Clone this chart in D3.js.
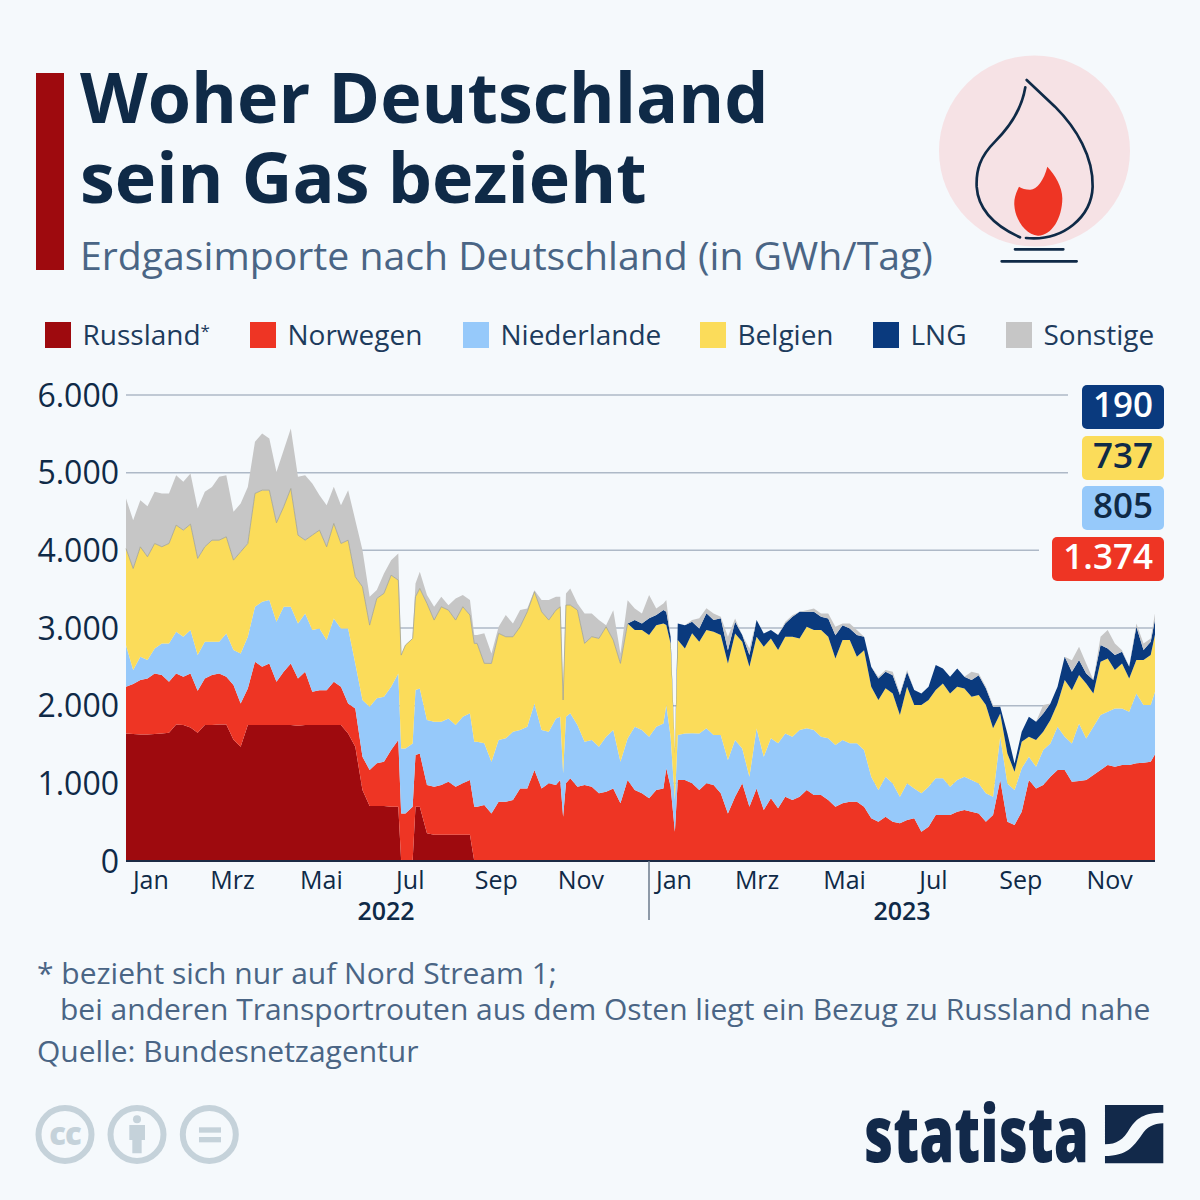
<!DOCTYPE html>
<html>
<head>
<meta charset="utf-8">
<script src="https://cdn.jsdelivr.net/npm/d3@7"></script>
<style>
  html, body { margin: 0; padding: 0; background: #f5f9fc; }
  svg { display: block; font-family: "Open Sans", sans-serif; }
</style>
</head>
<body>
<div id="chart"></div>
<script>
// days since 1 Jan 2022
const days = [
  0,5,10,15,20,25,30,35,40,45,50,55,60,65,70,75,80,85,90,95,
  100,105,110,115,120,125,130,135,140,145,150,155,160,165,170,175,180,185,190,192,
  195,200,202,205,210,215,220,225,230,235,240,243,245,250,255,260,265,270,275,280,
  285,290,295,300,303,305,307,310,315,320,325,330,335,340,345,350,355,360,365,370,
  375,377,380,383,385,390,395,400,405,410,415,420,425,430,435,440,445,450,455,460,
  465,470,475,480,485,490,495,500,505,510,515,520,525,530,535,540,545,550,555,560,
  565,570,575,580,585,590,595,600,605,610,615,620,625,630,635,640,645,650,655,660,
  665,670,675,680,685,690,695,700,705,710,715,718
];

const russland = [
  1643,1634,1630,1630,1634,1643,1652,1759,1750,1720,
  1652,1750,1750,1759,1759,1560,1470,1750,1750,1750,
  1750,1750,1750,1750,1742,1750,1750,1750,1750,1750,
  1750,1643,1472,914,708,708,708,699,699,
  0,0,0,699,699,356,339,339,339,339,339,339,
  0,0,0,0,0,0,0,0,0,0,
  0,0,0,0,0,0,0,0,0,0,
  0,0,0,0,0,0,0,0,0,0,
  0,0,0,0,0,0,0,0,0,0,
  0,0,0,0,0,0,0,0,0,0,
  0,0,0,0,0,0,0,0,0,0,
  0,0,0,0,0,0,0,0,0,0,
  0,0,0,0,0,0,0,0,0,0,
  0,0,0,0,0,0,0,0,0,0,
  0,0,0,0,0,0,0,0,0,0,
  0
];
const norwegen = [
  600,644,699,721,781,751,656,656,622,695,
  541,601,644,656,613,706,559,472,815,751,
  794,558,686,794,609,686,429,450,450,558,
  493,386,493,429,463,549,571,729,858,
  613,613,699,665,686,622,618,639,682,618,661,704,699,699,
  721,613,764,764,785,935,935,1171,935,1000,978,
  1042,571,1000,1064,957,978,957,871,892,935,742,1042,914,
  871,807,914,935,1193,957,378,1042,
  1042,1000,914,1000,978,871,613,828,1000,699,
  935,656,807,678,828,785,828,914,849,849,
  785,699,742,764,764,699,549,506,571,506,485,528,
  549,378,442,592,592,592,635,656,635,613,
  506,592,1042,506,463,635,1042,935,978,1085,
  1171,1171,1021,1030,1042,1107,1171,1236,1214,1236,
  1236,1257,1266,1278,1374
];
const niederlande = [
  536,180,300,236,322,408,493,536,515,558,
  459,472,429,408,558,450,644,665,708,837,
  815,772,837,729,708,751,794,794,644,815,
  751,965,579,729,815,837,837,815,858,
  837,837,815,837,837,837,837,815,815,794,858,858,837,837,
  794,665,794,815,879,751,794,858,751,665,858,
  815,558,858,837,794,558,601,601,708,751,536,536,815,
  815,794,815,837,815,644,408,579,
  601,644,729,708,644,751,686,729,450,386,
  772,686,772,837,815,815,858,794,837,751,
  794,794,815,751,751,729,536,408,515,493,343,472,
  386,493,515,472,472,365,408,429,408,386,
  365,236,558,493,450,558,300,279,450,429,
  558,429,493,742,536,622,708,686,751,729,
  686,901,742,729,805
];
const belgien = [
  1244,1308,1416,1330,1351,1244,1287,1373,1373,1364,
  1244,1223,1308,1308,1244,1158,1308,1201,1459,1437,
  1416,1274,1287,1523,1137,944,1223,1266,1201,1223,
  1094,1137,1115,1459,1051,1287,1330,1437,1201,
  1201,1330,1351,1201,1287,1502,1308,1480,1394,1351,1416,1266,1266,1266,
  1030,1266,1373,1308,1223,1330,1480,1437,1523,1437,1394,
  1416,944,1437,1394,1480,1266,1330,1394,1416,1158,1266,1480,1244,
  1287,1308,1308,1287,1030,1201,601,1223,
  1094,1287,1180,1266,1330,1287,1244,1373,1373,1416,
  1180,1416,1287,1201,1244,1287,1180,1308,1287,1373,
  1308,1115,1287,1330,1115,1287,1158,1158,1137,1158,1051,1244,
  1073,1137,1115,1137,1223,1201,1201,1137,1073,1137,
  1137,880,300,386,236,343,257,343,236,300,
  300,729,686,622,708,429,686,686,493,579,
  429,429,579,644,737
];
const lng = [
  0,0,0,0,0,0,0,0,0,0,
  0,0,0,0,0,0,0,0,0,0,
  0,0,0,0,0,0,0,0,0,0,
  0,0,0,0,0,0,0,0,0,0,
  0,0,0,0,0,0,0,0,0,0,
  0,0,0,0,0,0,0,0,0,0,
  0,0,0,0,0,0,0,0,0,0,
  0,0,0,0,0,0,
  129,86,215,129,172,172,86,21,215,
  300,150,172,215,150,215,172,150,86,150,
  215,172,107,193,172,257,343,193,236,172,
  236,300,193,150,279,172,257,279,214,236,257,193,
  193,150,172,322,193,215,236,150,215,257,
  215,279,86,257,107,129,257,236,236,215,
  215,300,236,193,129,172,215,129,193,150,
  150,429,129,172,190
];
const sonstige = [
  644,622,601,652,665,686,644,644,622,652,
  644,708,686,815,794,622,622,729,665,729,
  665,656,729,772,751,837,665,450,536,472,
  493,644,729,472,365,107,257,193,343,
  0,0,0,172,215,107,172,129,64,279,150,193,107,107,
  386,129,86,279,172,215,43,20,150,257,172,
  129,43,150,215,86,386,300,236,20,386,129,300,150,
  129,300,86,86,150,0,0,0,
  0,21,129,64,86,21,172,43,0,86,
  0,0,0,0,21,21,0,21,43,43,
  64,107,21,64,64,0,0,21,21,43,21,21,
  0,0,0,0,0,0,0,0,107,21,
  21,21,0,0,0,0,0,0,107,0,
  0,0,150,172,129,0,107,236,150,21,
  0,43,86,43,80
];

const seriesNames = ["Russland", "Norwegen", "Niederlande", "Belgien", "LNG", "Sonstige"];
const seriesColors = ["#9e0a0e", "#ee3524", "#96c9fa", "#fbdc5a", "#0a3a7e", "#c6c6c6"];
const seriesValues = [russland, norwegen, niederlande, belgien, lng, sonstige];

const yTicks = [0, 1000, 2000, 3000, 4000, 5000, 6000];
const monthLabels = ["Jan", "Mrz", "Mai", "Jul", "Sep", "Nov", "Jan", "Mrz", "Mai", "Jul", "Sep", "Nov"];
const monthDates = ["2022-01-18", "2022-03-16", "2022-05-17", "2022-07-18", "2022-09-16", "2022-11-14",
                    "2023-01-18", "2023-03-17", "2023-05-17", "2023-07-18", "2023-09-17", "2023-11-18"];
const yearLabels = ["2022", "2023"];

const ink = "#0f2a47";
const soft = "#4a6585";

const de = d3.formatLocale({ decimal: ",", thousands: ".", grouping: [3], currency: ["", " €"] });
const fmt = de.format(",d");

const svg = d3.select("#chart").append("svg").attr("width", 1200).attr("height", 1200);
svg.append("rect").attr("width", 1200).attr("height", 1200).attr("fill", "#f5f9fc");

// header
svg.append("rect").attr("x", 36).attr("y", 73).attr("width", 28).attr("height", 197).attr("fill", "#9e0a0e");
svg.append("text").attr("x", 80).attr("y", 123).text("Woher Deutschland")
    .attr("font-size", 70).attr("font-weight", 700).attr("fill", ink);
svg.append("text").attr("x", 80).attr("y", 203).text("sein Gas bezieht")
    .attr("font-size", 70).attr("font-weight", 700).attr("fill", ink);
svg.append("text").attr("x", 80).attr("y", 270).text("Erdgasimporte nach Deutschland (in GWh/Tag)")
    .attr("font-size", 39.2).attr("fill", soft);

// flame icon
svg.append("circle").attr("cx", 1034.5).attr("cy", 151).attr("r", 95.5).attr("fill", "#f6e2e5");
const icon = svg.append("g").attr("transform", "translate(920,40) scale(0.3333)");
icon.append("path")
    .attr("d", "M316,142 C305,210 270,260 225,305 C180,350 168,390 170,440 C175,520 240,565 300,592")
    .attr("fill", "none").attr("stroke", ink).attr("stroke-width", 8).attr("stroke-linecap", "round");
icon.append("path")
    .attr("d", "M320,120 L405,200 C470,265 520,350 518,440 C515,530 430,605 318,594")
    .attr("fill", "none").attr("stroke", ink).attr("stroke-width", 8).attr("stroke-linecap", "round");
icon.append("path")
    .attr("d", "M382,380 C372,420 350,450 330,449 C318,449 305,445 297,440 C285,465 282,480 283,495 C285,540 320,588 355,587 C395,587 427,535 427,475 C427,440 405,405 382,380 Z")
    .attr("fill", "#ee3524");
icon.append("path").attr("d", "M285,628 H430 M245,664 H470")
    .attr("stroke", ink).attr("stroke-width", 8).attr("stroke-linecap", "round");

// legend
const legendX = [45, 250, 463, 700, 873, 1006];
const legend = svg.selectAll("g.legend").data(seriesNames).enter().append("g")
    .attr("class", "legend")
    .attr("transform", (d, i) => `translate(${legendX[i]},322)`);
legend.append("rect").attr("width", 26).attr("height", 26).attr("fill", (d, i) => seriesColors[i]);
const legendText = legend.append("text").attr("x", 37.5).attr("y", 23)
    .attr("font-size", 28).attr("fill", "#1d3b5c").text(d => d);
legendText.filter(d => d === "Russland").append("tspan").text("*")
    .attr("font-size", 17).attr("dy", -8);

// chart
const start = new Date(Date.UTC(2022, 0, 1));
const dates = days.map(d => d3.utcDay.offset(start, d));
const x = d3.scaleUtc().domain([start, dates[dates.length - 1]]).range([126, 1155]);
const y = d3.scaleLinear().domain([0, 6000]).range([861, 395]);

const gridEnd = { 6000: 1068, 5000: 1068, 4000: 1039, 3000: 1155, 2000: 1155, 1000: 1155 };
svg.append("g").selectAll("line").data(yTicks.filter(d => d > 0)).enter().append("line")
    .attr("x1", 126).attr("x2", d => gridEnd[d])
    .attr("y1", d => y(d)).attr("y2", d => y(d))
    .attr("stroke", "#aeb9c7").attr("stroke-width", 1.5);

const table = dates.map((date, i) => {
  const row = { date };
  seriesNames.forEach((name, k) => { row[name] = seriesValues[k][i]; });
  return row;
});
const stacked = d3.stack().keys(seriesNames)(table);
const area = d3.area().x(d => x(d.data.date)).y0(d => y(d[0])).y1(d => y(d[1]));

svg.append("g").selectAll("path").data(stacked).enter().append("path")
    .attr("d", area)
    .attr("fill", (d, i) => seriesColors[i]);

// thin seam on top of the yellow layer, up to where LNG starts
const seam = d3.line()
    .defined(d => d.data.LNG === 0)
    .x(d => x(d.data.date)).y(d => y(d[1]));
svg.append("path").attr("d", seam(stacked[3]))
    .attr("fill", "none").attr("stroke", "#a3a391").attr("stroke-width", 0.8);

// y axis
const yAxis = svg.append("g").attr("transform", "translate(119,1)")
    .call(d3.axisLeft(y).tickValues(yTicks).tickSize(0).tickPadding(0).tickFormat(fmt));
yAxis.select(".domain").remove();
yAxis.selectAll("text").attr("font-size", 32).attr("fill", ink).attr("font-family", "Open Sans");

// x axis
const xAxis = svg.append("g").attr("transform", "translate(0,861)")
    .call(d3.axisBottom(x)
      .tickValues(monthDates.map(d => new Date(d + "T00:00:00Z")))
      .tickSize(0).tickPadding(10)
      .tickFormat((d, i) => monthLabels[i]));
xAxis.select(".domain").remove();
xAxis.selectAll("text").attr("font-size", 25).attr("fill", ink).attr("font-family", "Open Sans");
svg.append("line").attr("x1", 126).attr("x2", 1155).attr("y1", 861).attr("y2", 861)
    .attr("stroke", "#1c2b45").attr("stroke-width", 2);

svg.append("line").attr("x1", 649).attr("x2", 649).attr("y1", 861).attr("y2", 920)
    .attr("stroke", "#6b7a8c").attr("stroke-width", 1.5);
svg.selectAll("text.year").data(yearLabels).enter().append("text")
    .attr("class", "year")
    .attr("x", (d, i) => [386, 902][i]).attr("y", 920)
    .attr("text-anchor", "middle").attr("font-size", 25).attr("font-weight", 600)
    .attr("fill", ink).text(d => d);

// last-value badges
const last = days.length - 1;
const badges = [
  { value: lng[last], fill: seriesColors[4], text: "#ffffff", left: 1082, top: 385 },
  { value: belgien[last], fill: seriesColors[3], text: ink, left: 1082, top: 436 },
  { value: niederlande[last], fill: seriesColors[2], text: ink, left: 1082, top: 486 },
  { value: norwegen[last], fill: seriesColors[1], text: "#ffffff", left: 1052, top: 537 }
];
const badge = svg.selectAll("g.badge").data(badges).enter().append("g").attr("class", "badge");
badge.append("rect").attr("x", d => d.left).attr("y", d => d.top)
    .attr("width", d => 1164 - d.left).attr("height", 44).attr("rx", 5).attr("fill", d => d.fill);
badge.append("text").attr("x", 1153).attr("y", d => d.top + 32).attr("text-anchor", "end")
    .attr("font-size", 35).attr("font-weight", 600).attr("fill", d => d.text).text(d => fmt(d.value));

// footnotes
const notes = [
  { t: "* bezieht sich nur auf Nord Stream 1;", x: 37, y: 984 },
  { t: "bei anderen Transportrouten aus dem Osten liegt ein Bezug zu Russland nahe", x: 60, y: 1020 },
  { t: "Quelle: Bundesnetzagentur", x: 37, y: 1062 }
];
svg.selectAll("text.note").data(notes).enter().append("text").attr("class", "note")
    .attr("x", d => d.x).attr("y", d => d.y).attr("font-size", 30).attr("fill", soft).text(d => d.t);

// licence icons
const grey = "#c5d2da";
[65, 137, 209.3].forEach(cx => {
  svg.append("circle").attr("cx", cx).attr("cy", 1134.5).attr("r", 26.5)
      .attr("fill", "none").attr("stroke", grey).attr("stroke-width", 6);
});
svg.append("text").attr("x", 65).attr("y", 1145).attr("text-anchor", "middle")
    .attr("font-size", 31).attr("font-weight", 800).attr("fill", grey).attr("letter-spacing", -1).text("cc");
const cc = svg.append("g").attr("transform", "translate(20,1090) scale(0.3333)").attr("fill", grey);
cc.append("circle").attr("cx", 351).attr("cy", 88).attr("r", 12);
cc.append("path").attr("d", "M328,105 H375 V150 H365 V190 H337 V150 H328 Z");
cc.append("rect").attr("x", 537).attr("y", 112).attr("width", 66).attr("height", 16);
cc.append("rect").attr("x", 537).attr("y", 141).attr("width", 66).attr("height", 16);

// statista logo
svg.append("text").attr("x", 864).attr("y", 1162).text("statista")
    .attr("font-size", 78).attr("font-weight", 800).attr("fill", "#12294a")
    .attr("textLength", 225).attr("lengthAdjust", "spacingAndGlyphs");
const logo = svg.append("g").attr("transform", "translate(850,1090) scale(0.3333)").attr("fill", "#12294a");
logo.append("path").attr("d", "M765,45 H940 V68 C880,68 860,85 840,115 C820,150 800,163 765,163 Z");
logo.append("path").attr("d", "M940,100 V220 H765 V198 C830,198 850,170 875,135 C890,112 910,100 940,100 Z");

// series lengths must line up with days
seriesValues.forEach((s, k) => { if (s.length !== days.length) console.error(seriesNames[k], s.length, days.length); });
</script>
</body>
</html>
